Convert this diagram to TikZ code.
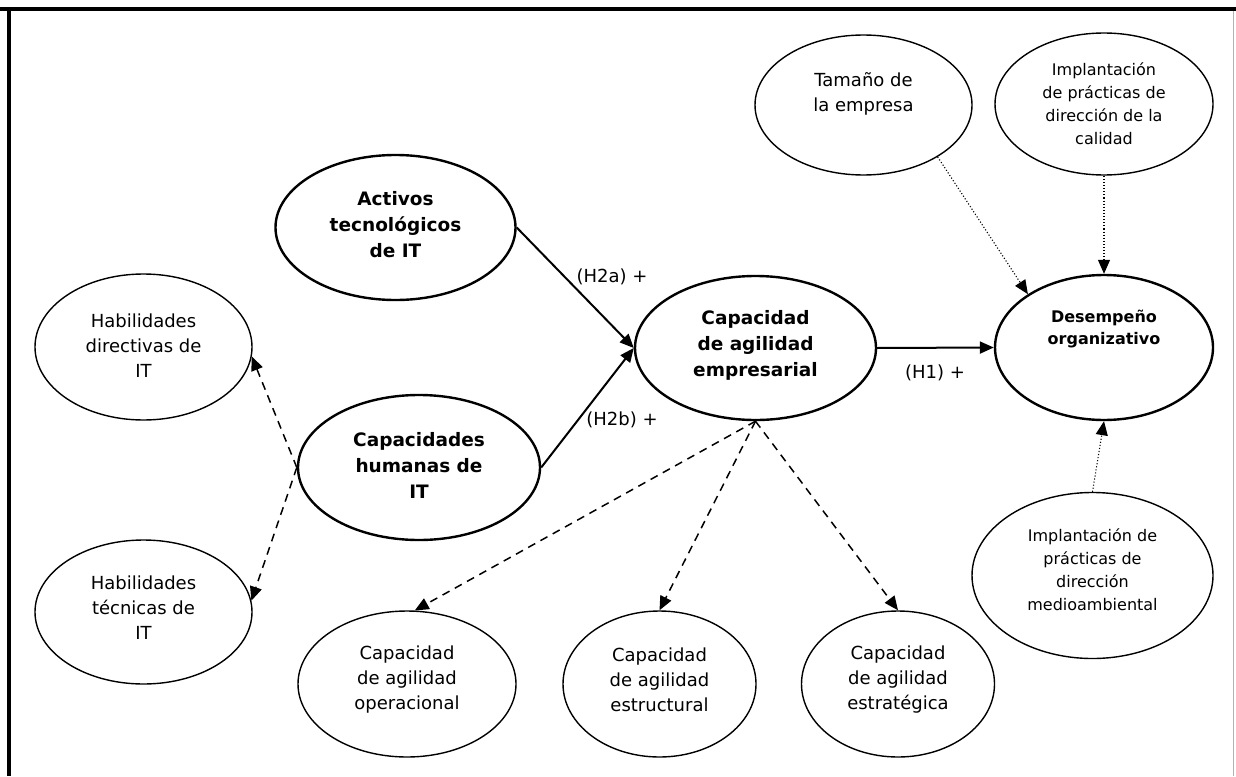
\documentclass[tikz,border=0pt]{standalone}
\usepackage{fontspec}
\setmainfont{DejaVu Sans}
\usetikzlibrary{shapes.geometric,arrows.meta}

\begin{document}
\begin{tikzpicture}[x=1pt,y=-1pt,
  ell/.style={draw, ellipse, inner sep=0pt, line width=1.4pt},
  bell/.style={draw, ellipse, inner sep=0pt, line width=2.4pt},
  txt/.style={align=center, font=\fontsize{18}{25}\selectfont, inner sep=0pt},
  btxt/.style={align=center, font=\fontsize{18.5}{26}\selectfont\bfseries, inner sep=0pt},
  stxt/.style={align=center, font=\fontsize{16}{23}\selectfont, inner sep=0pt},
  sbtxt/.style={align=center, font=\fontsize{16}{22}\selectfont\bfseries, inner sep=0pt},
  tip/.style={-{Triangle[length=14pt,width=12pt]}},
  solidlink/.style={tip, line width=2pt},
  dashlink/.style={tip, line width=1.5pt, dash pattern=on 8pt off 6pt},
  dotlink/.style={tip, line width=1.1pt, dash pattern=on 1.1pt off 2pt},
  hyp/.style={font=\fontsize{18}{22}\selectfont, inner sep=0pt}]

\useasboundingbox (0,0) rectangle (1236,776);

% frame
\draw[line width=4pt] (0,9.5) -- (1236,9.5);
\draw[line width=3.5pt] (9,7.5) -- (9,776);
\draw[black!30, line width=1pt] (1233,11) -- (1233,776);

% ellipses
\node[bell, minimum width=240pt, minimum height=145pt] (act) at (395.5,227.5) {};
\node[btxt] (act-t) at (395.5,225) {Activos\\tecnológicos\\de IT};

\node[bell, minimum width=242pt, minimum height=145pt] (hum) at (419,467.5) {};
\node[btxt] (hum-t) at (419,465) {Capacidades\\humanas de\\IT};

\node[bell, minimum width=241pt, minimum height=144pt] (emp) at (755.5,348) {};
\node[btxt] (emp-t) at (755.5,345) {Capacidad\\de agilidad\\empresarial};

\node[bell, minimum width=218pt, minimum height=145pt] (des) at (1104,347.5) {};
\node[sbtxt] (des-t) at (1104,329) {Desempeño\\organizativo};

\node[ell, minimum width=217pt, minimum height=146pt] (dir) at (143.5,347) {};
\node[txt] (dir-t) at (143.5,346) {Habilidades\\directivas de\\IT};

\node[ell, minimum width=217pt, minimum height=144pt] (tec) at (143.5,612) {};
\node[txt] (tec-t) at (143.5,608) {Habilidades\\técnicas de\\IT};

\node[ell, minimum width=217pt, minimum height=140pt] (tam) at (863.5,105) {};
\node[txt] (tam-t) at (863.5,94) {Tamaño de\\la empresa};

\node[ell, minimum width=218pt, minimum height=142pt] (cal) at (1104,104) {};
\node[stxt] (cal-t) at (1104,104) {Implantación\\de prácticas de\\dirección de la\\calidad};

\node[ell, minimum width=241pt, minimum height=166pt] (med) at (1092.5,575.5) {};
\node[stxt] (med-t) at (1092.5,570) {Implantación de\\prácticas de\\dirección\\medioambiental};

\node[ell, minimum width=218pt, minimum height=146pt] (opr) at (407,684) {};
\node[txt] (opr-t) at (407,680) {Capacidad\\de agilidad\\operacional};

\node[ell, minimum width=193pt, minimum height=146pt] (str) at (659.5,684) {};
\node[txt] (str-t) at (659.5,680) {Capacidad\\de agilidad\\estructural};

\node[ell, minimum width=193pt, minimum height=146pt] (stg) at (898,684) {};
\node[txt] (stg-t) at (898,680) {Capacidad\\de agilidad\\estratégica};

% hypotheses
\draw[solidlink] (act.east) -- (emp.west);
\draw[solidlink] (hum.east) -- (emp.west);
\draw[solidlink] (emp.east) -- (des.west);
\node[hyp] (h2a) at (612,277) {(H2a) +};
\node[hyp] (h2b) at (622,420) {(H2b) +};
\node[hyp] (h1) at (935,373) {(H1) +};

% dimensions
\draw[dashlink] (emp.south) -- (opr.84);
\draw[dashlink] (emp.south) -- (str.north);
\draw[dashlink] (emp.south) -- (stg.north);
\draw[dashlink] (hum.west) -- (dir.-5);
\draw[dashlink] (hum.west) -- (tec.6);

% control variables
\draw[dotlink] (tam.-35) -- (des.145);
\draw[dotlink] (cal.south) -- (des.north);
\draw[dotlink] (med.north) -- (des.south);
\end{tikzpicture}
\end{document}
